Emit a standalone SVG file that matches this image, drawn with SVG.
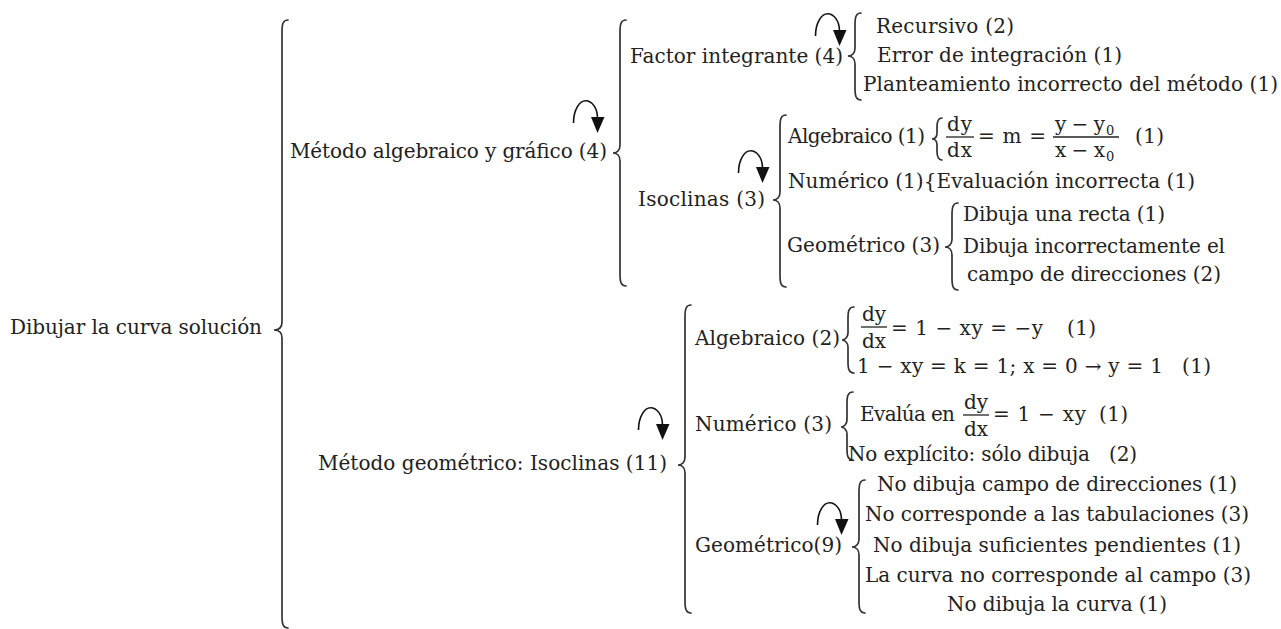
<svg xmlns="http://www.w3.org/2000/svg" xmlns:xlink="http://www.w3.org/1999/xlink" width="1281" height="629" viewBox="0 0 1281 629">
<style>
  .t { font-family: "DejaVu Serif", "Liberation Serif", serif; font-size: 20px; fill: #222; }
  .s { font-family: "DejaVu Serif", "Liberation Serif", serif; font-size: 13px; fill: #222; }
  .br { fill: none; stroke: #333; stroke-width: 1.7; stroke-linecap: round; }
  .fl { stroke: #222; stroke-width: 1.3; }
</style>
<defs>
  <g id="curl">
    <path d="M0.5,23 C0.5,9 7,0.8 12.5,0.8 C19,0.8 24.5,8 24.5,18" fill="none" stroke="#111" stroke-width="1.6"/>
    <polygon points="18,17 31.5,17 24.5,33" fill="#111"/>
  </g>
</defs>
<rect width="1281" height="629" fill="#fff"/>

<g id="connectors">
  <path class="br" d="M288,20 C283,20 282,24 282,32 L282,322 C282,327 279,330 274,330 C279,330 282,333 282,338 L282,616 C282,624 283,628 288,628"/>
  <path class="br" d="M626,20 C621,20 620,24 620,32 L620,145 C620,150 617,153 613,153 C617,153 620,156 620,161 L620,274 C620,282 621,286 626,286"/>
  <path class="br" d="M861,13 C856,13 855,17 855,25 L855,48 C855,53 852,56 848,56 C852,56 855,59 855,64 L855,88 C855,96 856,100 861,100"/>
  <path class="br" d="M786,115 C781,115 780,119 780,127 L780,192 C780,197 777,200 773,200 C777,200 780,203 780,208 L780,275 C780,283 781,287 786,287"/>
  <path class="br" d="M942,118 C938,118 937,121 937,127 L937,133 C937,137 935,139 932,139 C935,139 937,141 937,145 L937,151 C937,157 938,160 942,160"/>
  <path class="br" d="M958,203 C953,203 952,207 952,215 L952,239 C952,244 949,247 945,247 C949,247 952,250 952,255 L952,278 C952,286 953,290 958,290"/>
  <path class="br" d="M691,305 C686,305 685,309 685,317 L685,457 C685,462 682,465 678,465 C682,465 685,468 685,473 L685,601 C685,609 686,613 691,613"/>
  <path class="br" d="M854,307 C849,307 848,311 848,318 L848,333 C848,337 845,340 842,340 C845,340 848,343 848,347 L848,362 C848,369 849,373 854,373"/>
  <path class="br" d="M853,392 C848,392 847,396 847,403 L847,420 C847,424 844,427 841,427 C844,427 847,430 847,434 L847,449 C847,456 848,460 853,460"/>
  <path class="br" d="M865,480 C860,480 859,484 859,492 L859,539 C859,544 856,547 852,547 C856,547 859,550 859,555 L859,601 C859,609 860,613 865,613"/>
  <use xlink:href="#curl" href="#curl" x="573" y="100"/>
  <use xlink:href="#curl" href="#curl" x="815" y="13"/>
  <use xlink:href="#curl" href="#curl" x="738" y="150"/>
  <use xlink:href="#curl" href="#curl" x="638" y="407"/>
  <use xlink:href="#curl" href="#curl" x="817" y="502"/>
</g>

<g id="root"><text class="t" x="10" y="334" textLength="252">Dibujar la curva solución</text></g>

<g id="metodo-algebraico"><text class="t" x="290" y="158" textLength="317">Método algebraico y gráfico (4)</text></g>

<g id="factor-integrante"><text class="t" x="630" y="63" textLength="213">Factor integrante (4)</text></g>
<g id="fi-recursivo"><text class="t" x="876" y="33" textLength="138">Recursivo (2)</text></g>
<g id="fi-error"><text class="t" x="877" y="62" textLength="245">Error de integración (1)</text></g>
<g id="fi-planteamiento"><text class="t" x="863" y="91" textLength="415">Planteamiento incorrecto del método (1)</text></g>

<g id="isoclinas"><text class="t" x="638" y="206" textLength="127">Isoclinas (3)</text></g>
<g id="iso-algebraico">
  <text class="t" x="788" y="143" textLength="137">Algebraico (1)</text>
  <text class="t" x="947" y="131" textLength="25">dy</text>
  <line class="fl" x1="946" y1="137" x2="974" y2="137"/>
  <text class="t" x="947" y="157" textLength="25">dx</text>
  <text class="t" x="978" y="143" textLength="68">= m =</text>
  <text class="t" x="1055" y="131" textLength="50">y − y</text>
  <text class="s" x="1106" y="135">0</text>
  <line class="fl" x1="1053" y1="137" x2="1119" y2="137"/>
  <text class="t" x="1055" y="157" textLength="50">x − x</text>
  <text class="s" x="1106" y="161">0</text>
  <text class="t" x="1135" y="143" textLength="29">(1)</text>
</g>
<g id="iso-numerico"><text class="t" x="788" y="188" textLength="407">Numérico (1){Evaluación incorrecta (1)</text></g>
<g id="iso-geometrico">
  <text class="t" x="787" y="252" textLength="153">Geométrico (3)</text>
  <text class="t" x="963" y="221" textLength="202">Dibuja una recta (1)</text>
  <text class="t" x="963" y="253" textLength="262">Dibuja incorrectamente el</text>
  <text class="t" x="967" y="281" textLength="254">campo de direcciones (2)</text>
</g>

<g id="metodo-geometrico"><text class="t" x="318" y="470" textLength="349">Método geométrico: Isoclinas (11)</text></g>
<g id="mg-algebraico">
  <text class="t" x="695" y="345" textLength="145">Algebraico (2)</text>
  <text class="t" x="862" y="321" textLength="24">dy</text>
  <line class="fl" x1="861" y1="327" x2="887" y2="327"/>
  <text class="t" x="862" y="348" textLength="24">dx</text>
  <text class="t" x="891" y="335" textLength="152">= 1 − xy = −y</text>
  <text class="t" x="1067" y="335" textLength="29">(1)</text>
  <text class="t" x="857" y="373" textLength="306">1 − xy = k = 1; x = 0 → y = 1</text>
  <text class="t" x="1182" y="373" textLength="29">(1)</text>
</g>
<g id="mg-numerico">
  <text class="t" x="695" y="431" textLength="137">Numérico (3)</text>
  <text class="t" x="860" y="421" textLength="95">Evalúa en</text>
  <text class="t" x="964" y="409" textLength="24">dy</text>
  <line class="fl" x1="963" y1="415" x2="989" y2="415"/>
  <text class="t" x="964" y="436" textLength="24">dx</text>
  <text class="t" x="993" y="421" textLength="93">= 1 − xy</text>
  <text class="t" x="1099" y="421" textLength="29">(1)</text>
  <text class="t" x="848" y="461" textLength="242">No explícito: sólo dibuja</text>
  <text class="t" x="1109" y="461" textLength="28">(2)</text>
</g>
<g id="mg-geometrico">
  <text class="t" x="695" y="552" textLength="147">Geométrico(9)</text>
  <text class="t" x="877" y="491" textLength="360">No dibuja campo de direcciones (1)</text>
  <text class="t" x="865" y="521" textLength="384">No corresponde a las tabulaciones (3)</text>
  <text class="t" x="873" y="552" textLength="368">No dibuja suficientes pendientes (1)</text>
  <text class="t" x="865" y="582" textLength="386">La curva no corresponde al campo (3)</text>
  <text class="t" x="947" y="611" textLength="220">No dibuja la curva (1)</text>
</g>
</svg>
